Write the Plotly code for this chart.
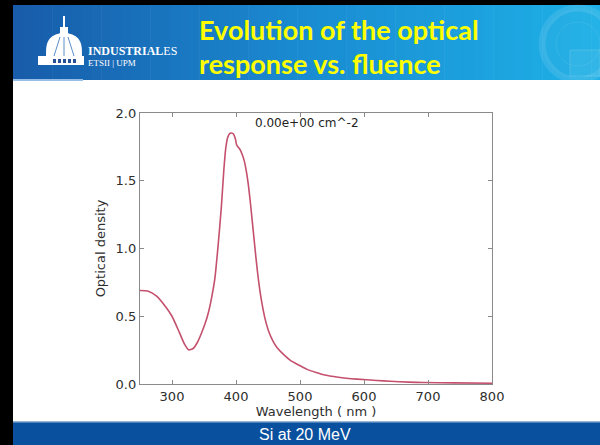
import math
import plotly.graph_objects as go

# ---------------- data ----------------
wavelength = [250, 263, 276, 290, 300, 312, 320, 326, 333, 340, 346, 352, 357, 362, 367,
              372, 377, 381, 384, 387, 390, 393, 396, 399, 401, 404, 407, 410, 413, 416,
              419, 422, 425, 428, 431, 434, 437, 440, 445, 451, 458, 464, 475, 485, 498,
              511, 525, 537, 560, 589, 620, 641, 670, 693, 740, 800]
optical_density = [0.69, 0.685, 0.648, 0.57, 0.50, 0.375, 0.29, 0.252, 0.262, 0.31, 0.375, 0.45,
                   0.53, 0.64, 0.78, 1.02, 1.30, 1.58, 1.74, 1.82, 1.848, 1.852, 1.845, 1.81,
                   1.765, 1.745, 1.725, 1.69, 1.645, 1.575, 1.48, 1.36, 1.22, 1.08, 0.94,
                   0.81, 0.70, 0.61, 0.49, 0.39, 0.315, 0.27, 0.215, 0.175, 0.14,
                   0.108, 0.085, 0.068, 0.05, 0.036, 0.026, 0.02, 0.014, 0.011, 0.008, 0.006]
x_ticks = [300, 400, 500, 600, 700, 800]
y_ticks = [0.0, 0.5, 1.0, 1.5, 2.0]
y_tick_labels = ["0.0", "0.5", "1.0", "1.5", "2.0"]
fluence_label = "0.00e+00 cm^-2"
title_lines = ["Evolution of the optical", "response vs. fluence"]
footer_text = "Si at 20 MeV"

# ---------------- layout geometry ----------------
W, H = 600, 445
L, R, T, B = 140, 108, 113, 61
PW, PH = W - L - R, H - T - B


def X(px):
    return (px - L) / PW


def Y(py):
    return (H - B - py) / PH


fig = go.Figure()
fig.add_trace(go.Scatter(x=wavelength, y=optical_density, mode="lines",
                         line=dict(color="#c4506e", width=1.6, shape="spline", smoothing=0.6),
                         hoverinfo="skip", showlegend=False))

shapes = []


def rect(x0, y0, x1, y1, color, layer="below", line_color=None, lw=0):
    shapes.append(dict(type="rect", xref="paper", yref="paper",
                       x0=X(x0), x1=X(x1), y0=Y(y1), y1=Y(y0),
                       fillcolor=color, line=dict(width=lw, color=line_color or color),
                       layer=layer))


def lerp(c0, c1, t):
    return "rgb(%d,%d,%d)" % tuple(round(a + (b - a) * t) for a, b in zip(c0, c1))


# white slide body (paper background is black -> frame top and left)
rect(13, 5, 601, 446, "white")

# header gradient
c_left, c_mid, c_right = (24, 92, 170), (26, 140, 210), (30, 176, 230)
n = 60
x_start, x_end = 13, 601
for i in range(n):
    xa = x_start + (x_end - x_start) * i / n
    xb = x_start + (x_end - x_start) * (i + 1) / n + 0.6
    t = i / (n - 1)
    col = lerp(c_left, c_mid, t * 2) if t < 0.5 else lerp(c_mid, c_right, (t - 0.5) * 2)
    rect(xa, 5, xb, 80, col)
# thin light strip at header bottom-left
rect(13, 79, 83, 81, "rgb(150,190,230)")
# footer bar
rect(13, 422, 601, 446, "rgb(9,80,158)")
rect(13, 421, 601, 422.5, "rgb(150,180,215)")

# seal (faint)
shapes.append(dict(type="circle", xref="paper", yref="paper",
                   x0=X(542), x1=X(614), y0=Y(80), y1=Y(8),
                   line=dict(color="rgba(255,255,255,0.10)", width=7),
                   fillcolor="rgba(255,255,255,0.03)", layer="below"))
shapes.append(dict(type="circle", xref="paper", yref="paper",
                   x0=X(556), x1=X(600), y0=Y(66), y1=Y(22),
                   line=dict(color="rgba(255,255,255,0.08)", width=1),
                   fillcolor="rgba(255,255,255,0.0)", layer="below"))
rect(570, 50, 600, 76, "rgba(255,255,255,0.06)", line_color="rgba(255,255,255,0.15)", lw=1)


def path(points):
    return "M " + " L ".join("%f,%f" % (X(a), Y(b)) for a, b in points) + " Z"


# dome logo
dome_pts = []
cx, base_y, rx, ry = 64, 57, 18, 24
for k in range(0, 41):
    ang = math.pi * k / 40
    dome_pts.append((cx - rx * math.cos(ang), base_y - ry * math.sin(ang) ** 0.55))
shapes.append(dict(type="path", xref="paper", yref="paper", path=path(dome_pts),
                   fillcolor="white", line=dict(width=0), layer="below"))
rect(60, 27, 68, 35, "white")
rect(63, 16, 65, 27, "white")
rect(38, 56, 84, 65, "white")
for wx in (53, 58, 63, 68, 73):
    rect(wx, 59, wx + 3, 63, "rgb(40,80,150)")
for rib in (54, 64, 74):
    shapes.append(dict(type="line", xref="paper", yref="paper",
                       x0=X(rib), x1=X(cx + (rib - cx) * 0.4), y0=Y(56), y1=Y(37),
                       line=dict(color="rgb(90,140,200)", width=1), layer="below"))

annotations = [
    dict(x=X(197), y=Y(29), xref="paper", yref="paper", xanchor="left", yanchor="middle",
         text="<b>%s</b>" % title_lines[0], showarrow=False,
         font=dict(family="Lato", size=27, color="#ffff00")),
    dict(x=X(197), y=Y(63), xref="paper", yref="paper", xanchor="left", yanchor="middle",
         text="<b>%s</b>" % title_lines[1], showarrow=False,
         font=dict(family="Lato", size=27, color="#ffff00")),
    dict(x=X(86), y=Y(51), xref="paper", yref="paper", xanchor="left", yanchor="middle",
         text="<b>INDUSTRIAL</b>ES", showarrow=False,
         font=dict(family="Liberation Serif", size=12, color="white")),
    dict(x=X(86), y=Y(63), xref="paper", yref="paper", xanchor="left", yanchor="middle",
         text="ETSII | UPM", showarrow=False,
         font=dict(family="Liberation Serif", size=9, color="white")),
    dict(x=X(305), y=Y(434), xref="paper", yref="paper", xanchor="center", yanchor="middle",
         text=footer_text, showarrow=False,
         font=dict(family="Liberation Sans", size=16, color="white")),
    dict(x=X(307), y=Y(123), xref="paper", yref="paper", xanchor="center", yanchor="middle",
         text=fluence_label, showarrow=False,
         font=dict(family="DejaVu Sans", size=12, color="#222")),
]

axis_common = dict(showline=True, linecolor="#8a8a8a", linewidth=1.4, mirror="ticks",
                   ticks="inside", ticklen=4, tickcolor="#8a8a8a", showgrid=False,
                   zeroline=False, tickfont=dict(family="DejaVu Sans", size=13, color="#2e2e2e"))

fig.update_layout(
    width=W, height=H, margin=dict(l=L, r=R, t=T, b=B),
    paper_bgcolor="black", plot_bgcolor="white",
    shapes=shapes, annotations=annotations,
    xaxis=dict(range=[250, 800], tickvals=x_ticks, **axis_common,
               title=dict(text="Wavelength ( nm )", standoff=0,
                          font=dict(family="DejaVu Sans", size=13, color="#2e2e2e"))),
    yaxis=dict(range=[0, 2.0], tickvals=y_ticks, ticktext=y_tick_labels, **axis_common,
               title=dict(text="Optical density", standoff=6,
                          font=dict(family="DejaVu Sans", size=13, color="#2e2e2e"))),
)

fig.write_html("out.html", config={"displayModeBar": False},
               post_script="document.body.style.margin='0';document.body.style.overflow='hidden';")
